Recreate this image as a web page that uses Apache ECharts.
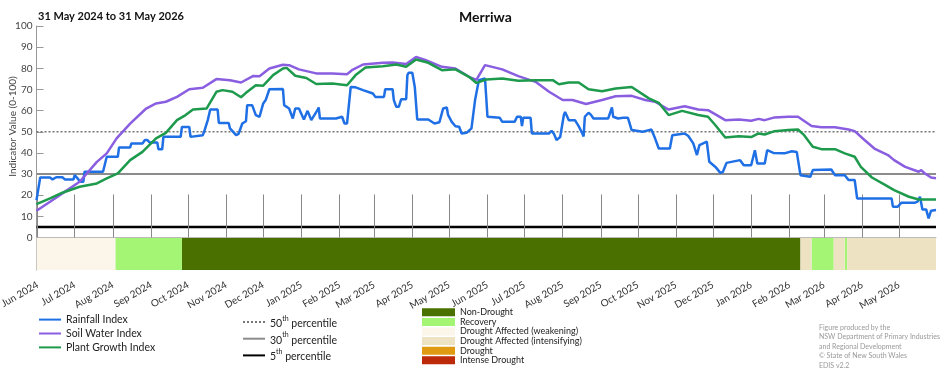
<!DOCTYPE html>
<html><head><meta charset="utf-8">
<script src="https://cdn.jsdelivr.net/npm/echarts@6.0.0/dist/echarts.min.js"></script>
<style>html,body{margin:0;padding:0;background:#fff}#c{width:952px;height:370px}</style>
</head><body><div id="c"></div>
<script>
const chartTitle = 'Merriwa';
const periodText = '31 May 2024 to 31 May 2026';
const xStart = '2024-05-31', xEnd = '2026-05-31';
const yTicks = [10,20,30,40,50,60,70,80,90,100];
const monthTicks = ['2024-06-01','2024-07-01','2024-08-01','2024-09-01','2024-10-01','2024-11-01','2024-12-01',
 '2025-01-01','2025-02-01','2025-03-01','2025-04-01','2025-05-01','2025-06-01','2025-07-01','2025-08-01','2025-09-01',
 '2025-10-01','2025-11-01','2025-12-01','2026-01-01','2026-02-01','2026-03-01','2026-04-01','2026-05-01'];
const monthNames = ['Jan','Feb','Mar','Apr','May','Jun','Jul','Aug','Sep','Oct','Nov','Dec'];

const rainDates = ['2024-05-31','2024-06-03','2024-06-11','2024-06-13','2024-06-16','2024-06-21','2024-06-23','2024-06-30','2024-07-01','2024-07-04','2024-07-05','2024-07-08','2024-07-09','2024-07-24','2024-07-27','2024-08-05','2024-08-06','2024-08-15','2024-08-16','2024-08-25','2024-08-27','2024-08-29','2024-08-31','2024-09-06','2024-09-07','2024-09-10','2024-09-11','2024-09-25','2024-09-26','2024-10-02','2024-10-03','2024-10-13','2024-10-14','2024-10-17','2024-10-19','2024-10-25','2024-10-26','2024-11-03','2024-11-04','2024-11-09','2024-11-11','2024-11-14','2024-11-17','2024-11-18','2024-11-22','2024-11-25','2024-11-28','2024-12-01','2024-12-03','2024-12-06','2024-12-17','2024-12-18','2024-12-22','2024-12-25','2024-12-27','2024-12-30','2025-01-03','2025-01-06','2025-01-09','2025-01-14','2025-01-15','2025-01-16','2025-01-29','2025-01-30','2025-02-03','2025-02-05','2025-02-07','2025-02-10','2025-02-14','2025-02-20','2025-02-28','2025-03-02','2025-03-09','2025-03-10','2025-03-16','2025-03-17','2025-03-19','2025-03-21','2025-03-23','2025-03-27','2025-03-28','2025-03-29','2025-04-01','2025-04-03','2025-04-05','2025-04-14','2025-04-19','2025-04-23','2025-04-26','2025-04-29','2025-04-30','2025-05-03','2025-05-06','2025-05-09','2025-05-11','2025-05-15','2025-05-19','2025-05-22','2025-05-23','2025-05-25','2025-05-26','2025-05-30','2025-06-01','2025-06-11','2025-06-13','2025-06-23','2025-06-25','2025-06-28','2025-06-29','2025-06-30','2025-07-06','2025-07-07','2025-07-21','2025-07-23','2025-07-25','2025-07-27','2025-07-30','2025-08-02','2025-08-03','2025-08-06','2025-08-11','2025-08-14','2025-08-17','2025-08-18','2025-08-19','2025-08-22','2025-08-24','2025-08-26','2025-09-07','2025-09-10','2025-09-11','2025-09-15','2025-09-19','2025-09-23','2025-09-26','2025-10-05','2025-10-10','2025-10-12','2025-10-15','2025-10-18','2025-10-27','2025-10-29','2025-11-08','2025-11-11','2025-11-15','2025-11-18','2025-11-20','2025-11-26','2025-11-28','2025-12-03','2025-12-07','2025-12-09','2025-12-12','2025-12-23','2025-12-26','2026-01-01','2026-01-04','2026-01-06','2026-01-12','2026-01-14','2026-01-19','2026-01-28','2026-02-03','2026-02-07','2026-02-10','2026-02-18','2026-02-20','2026-03-07','2026-03-10','2026-03-18','2026-03-19','2026-03-21','2026-03-26','2026-03-28','2026-04-25','2026-04-26','2026-04-30','2026-05-03','2026-05-14','2026-05-16','2026-05-18','2026-05-20','2026-05-23','2026-05-25','2026-05-27','2026-05-31'];
const rainValues = [17.7,28.4,28.4,27.5,28.5,28.5,27.5,27.5,29.5,27.5,26.4,26.4,31.1,31.1,38.2,38.2,42.6,42.6,44.5,44.5,46.1,46.1,44.9,44.9,41.7,41.7,47.6,47.6,52.3,52.3,47.6,48.4,50,55.5,60.5,60.5,54.2,54.2,51.6,48.4,49,53.9,55,62.6,62.6,57.9,57.1,63.4,65,70.1,70.2,62.6,61,56.3,61,61,55.8,59.9,55.5,60.2,61.5,56.3,56.3,57.1,57.1,53.9,53.9,71.2,71,69.7,68.1,66.5,66.5,70.1,70.1,65,61.8,61.8,65.4,65.4,76.8,77.9,77.9,71.2,55.8,55.8,53.9,54.5,61,61.5,58,54.7,52.6,52.4,49.2,49.5,51.6,65.3,66,74.4,75.2,75.2,57.1,56.6,54.7,54.7,57.1,57.1,52.7,56.6,56.6,49.2,49.2,50.5,49,46.1,47.5,57.9,59.4,55.5,55.5,52.7,49.2,47.8,57.1,59,58,56.3,56.3,61.5,57.1,56.3,56.6,56.6,50.8,50,50.8,51.1,46.9,42.1,42.1,48.4,49.2,48,44.5,39,43.7,45.3,35.8,33.4,30.6,31,35.3,36.6,34.2,34.2,41.3,35,35,41.3,40,39.8,40.8,40.5,29.5,28.7,31.9,32.2,29.5,29.5,30.3,27.2,27.2,18.5,18.5,14.6,14.6,16.5,16.5,17,19.3,13.3,13.3,9.1,12.7,13];

const soilDates = ['2024-05-31','2024-06-11','2024-06-21','2024-07-05','2024-07-19','2024-07-27','2024-08-04','2024-08-15','2024-08-28','2024-09-05','2024-09-13','2024-09-22','2024-10-02','2024-10-13','2024-10-24','2024-11-04','2024-11-13','2024-11-23','2024-11-28','2024-12-06','2024-12-17','2024-12-22','2024-12-30','2025-01-13','2025-01-26','2025-02-07','2025-02-11','2025-02-20','2025-03-08','2025-03-16','2025-03-27','2025-04-04','2025-04-12','2025-04-25','2025-05-06','2025-05-17','2025-05-23','2025-05-30','2025-06-13','2025-06-26','2025-07-10','2025-07-21','2025-08-01','2025-08-09','2025-08-20','2025-09-02','2025-09-13','2025-09-26','2025-10-07','2025-10-15','2025-10-26','2025-11-08','2025-11-19','2025-11-27','2025-12-03','2025-12-11','2025-12-22','2026-01-01','2026-01-07','2026-01-12','2026-01-20','2026-01-31','2026-02-08','2026-02-19','2026-02-27','2026-03-10','2026-03-21','2026-03-26','2026-04-03','2026-04-11','2026-04-22','2026-04-27','2026-05-06','2026-05-17','2026-05-19','2026-05-22','2026-05-27','2026-05-31'];
const soilValues = [12.7,16.9,20.9,26.4,35.8,39.8,46.9,53.9,61,63.4,64.2,66.5,70.1,70.8,74.9,74.4,73.3,76.4,76.3,79.9,81.7,81.5,79.5,77.6,77.6,77.2,79.1,81.8,82.6,82.7,82,85.4,83.8,80.7,79.9,76,74.5,81.5,79.5,76.3,73.6,68.9,65,65,63.1,65,66.8,67,65,64.2,60.5,62.1,60.5,60.2,58.2,55.5,55.8,55.2,56.1,55.5,56.8,57.1,57.1,52.7,52.1,52.1,51.1,50.3,46.1,42.1,39,36.6,33.4,31.1,31.9,30.3,28.4,28];

const plantDates = ['2024-05-31','2024-06-11','2024-06-21','2024-07-05','2024-07-19','2024-07-27','2024-08-05','2024-08-15','2024-08-25','2024-09-05','2024-09-13','2024-09-22','2024-09-29','2024-10-05','2024-10-16','2024-10-24','2024-10-29','2024-11-06','2024-11-13','2024-11-17','2024-11-25','2024-12-01','2024-12-09','2024-12-17','2024-12-20','2024-12-27','2025-01-05','2025-01-13','2025-01-26','2025-02-07','2025-02-14','2025-02-22','2025-03-08','2025-03-19','2025-03-27','2025-04-04','2025-04-14','2025-04-25','2025-05-06','2025-05-17','2025-05-23','2025-05-31','2025-06-13','2025-06-26','2025-07-10','2025-07-24','2025-07-29','2025-08-06','2025-08-14','2025-08-22','2025-09-02','2025-09-13','2025-09-26','2025-10-10','2025-10-18','2025-10-26','2025-11-06','2025-11-19','2025-11-27','2025-12-03','2025-12-11','2025-12-22','2026-01-01','2026-01-07','2026-01-12','2026-01-20','2026-01-31','2026-02-08','2026-02-13','2026-02-20','2026-02-27','2026-03-10','2026-03-18','2026-03-26','2026-03-31','2026-04-09','2026-04-20','2026-04-27','2026-05-09','2026-05-17','2026-05-31'];
const plantValues = [15.8,18.5,21.2,24,25.6,28,30.3,36.6,40.5,46.9,49.5,55.5,57.9,60.5,61,68.9,69.7,68.9,66.3,68.4,72,71.8,76.8,79.9,80.2,76.5,75.4,72.6,72.8,72,76.8,80.4,81,81.8,80.7,84.2,82.6,79.1,79.5,76,73.1,74.7,75.2,74.1,74.4,74.4,72.5,73.3,73.3,70.1,69.2,70.5,71.2,65.8,63.7,57.9,59.9,57.9,57.1,53.1,47.3,47.9,47.5,49.2,48.7,50.3,50.8,51.1,48.4,42.9,41.8,41.8,39.8,38.2,33.4,28.4,24.8,22.4,19.3,18,18];

const percentileNames = ['50th percentile','30th percentile','5th percentile'];
const percentileValues = [50, 30, 5];

const statusNames = ['Non-Drought','Recovery','Drought Affected (weakening)','Drought Affected (intensifying)','Drought','Intense Drought'];
const statusStart = ['2024-05-31','2024-08-03','2024-09-26','2026-02-10','2026-02-19','2026-03-09','2026-03-18','2026-03-20'];
const statusEnd   = ['2024-08-03','2024-09-26','2026-02-10','2026-02-19','2026-03-09','2026-03-18','2026-03-20','2026-05-31'];
const statusClass = [2,1,0,3,1,3,1,3];

const footnote = ['Figure produced by the','NSW Department of Primary Industries','and Regional Development','\u00A9 State of New South Wales','EDIS v2.2'];

const FONT = 'Lato';
const seriesColors = ['#1f6fe5','#8a5ee0','#1d9a4c'];
const percentileStyles = [{color:'#777', width:1.6, type:[2,2]},{color:'#8c8c8c', width:2, type:'solid'},{color:'#000', width:2.5, type:'solid'}];
const statusColors = ['#4a7000','#a3f573','#fcf5ea','#ede3c3','#e09a12','#bd2a0a'];
const BAND_BOTTOM = -15.5;

function ts(s){ return new Date(s + 'T00:00:00').getTime(); }
function pairs(d, v){ return d.map((x,i)=>[ts(x), v[i]]); }

const chart = echarts.init(document.getElementById('c'), null, {renderer:'canvas'});

const series = [
  {name:'Rainfall Index', data: pairs(rainDates, rainValues), color: seriesColors[0]},
  {name:'Soil Water Index', data: pairs(soilDates, soilValues), color: seriesColors[1]},
  {name:'Plant Growth Index', data: pairs(plantDates, plantValues), color: seriesColors[2]}
].map(s => ({
  type:'line', name:s.name, xAxisIndex:0, yAxisIndex:0, data:s.data, symbol:'none', showSymbol:false,
  lineStyle:{color:s.color, width:2.5}, itemStyle:{color:s.color}, z:5, animation:false
}));

percentileNames.forEach((n,i)=>{
  series.push({type:'line', name:n, xAxisIndex:0, yAxisIndex:0, symbol:'none', showSymbol:false, clip:false,
    data:[[ts(xStart), percentileValues[i]],[ts(xEnd), percentileValues[i]]],
    lineStyle:percentileStyles[i], itemStyle:{color:percentileStyles[i].color}, z:3, animation:false});
});

statusNames.forEach((n,ci)=>{
  const segs = [];
  statusClass.forEach((c,k)=>{ if(c===ci) segs.push([ts(statusStart[k]), ts(statusEnd[k])]); });
  series.push({type:'custom', name:n, xAxisIndex:1, yAxisIndex:1, itemStyle:{color:statusColors[ci]},
    encode:{x:[0,1]}, data:segs, z:1, animation:false,
    renderItem:(params, api)=>{
      const a = api.coord([api.value(0), 0]);
      const b = api.coord([api.value(1), BAND_BOTTOM]);
      return {type:'rect', shape:{x:a[0], y:a[1], width:b[0]-a[0], height:b[1]-a[1]}, style:{fill:statusColors[ci]}};
    }});
});

const monthTs = monthTicks.map(ts);
const labelStyle = {color:'#333', fontFamily:FONT, fontSize:10};

chart.setOption({
  animation:false,
  textStyle:{fontFamily:FONT},
  title:{text:chartTitle, left:454, top:5, textStyle:{fontFamily:FONT, fontSize:14, fontWeight:'bold', color:'#111'}},
  graphic:[
    {type:'text', left:38, top:11, style:{text:periodText, font:'bold 11px ' + FONT, fill:'#111'}},
    {type:'text', left:819, top:323, style:{text:footnote.join('\n'), font:'7px ' + FONT, fill:'#999', lineHeight:9.4}}
  ],
  grid:[
    {left:36.5, right:16, top:26, height:201, containLabel:false, outerBoundsMode:'none'},
    {left:36.5, right:16, top:227, height:43, containLabel:false, outerBoundsMode:'none'}
  ],
  xAxis:[
    {type:'value', gridIndex:0, min:ts(xStart), max:ts(xEnd), show:false},
    {type:'value', gridIndex:1, min:ts(xStart), max:ts(xEnd), z:5,
     axisLine:{show:true, lineStyle:{color:'#bbb', width:1}},
     axisTick:{show:true, inside:true, length:43, customValues:monthTs, lineStyle:{color:'#888', width:1}},
     splitLine:{show:false},
     axisLabel:{show:true, rotate:30, margin:14, customValues:monthTs, ...labelStyle,
       formatter:(v)=>{const d=new Date(v); return monthNames[d.getMonth()] + ' ' + d.getFullYear();}}}
  ],
  yAxis:[
    {type:'value', gridIndex:0, min:5, max:100, name:'Indicator Value (0-100)', nameLocation:'middle', nameGap:19,
     nameMoveOverlap:false,
     nameTextStyle:{color:'#444', fontFamily:FONT, fontSize:10},
     axisLine:{show:true, lineStyle:{color:'#999'}},
     axisTick:{show:true, inside:true, length:7, customValues:yTicks, lineStyle:{color:'#999'}},
     axisLabel:{customValues:yTicks, margin:4, color:'#444', fontFamily:FONT, fontSize:10},
     splitLine:{show:false}},
    {type:'value', gridIndex:1, min:BAND_BOTTOM, max:5,
     axisLine:{show:true, lineStyle:{color:'#999'}},
     axisTick:{show:true, inside:true, length:7, customValues:[0, -7.5], lineStyle:{color:'#999'}},
     axisLabel:{customValues:[0], margin:4, color:'#444', fontFamily:FONT, fontSize:10},
     splitLine:{show:false}}
  ],
  legend:[
    {data:['Rainfall Index','Soil Water Index','Plant Growth Index'], orient:'vertical', left:38, top:314, height:80, padding:0,
     itemWidth:22, itemHeight:14, itemGap:2.7, itemStyle:{opacity:0}, textStyle:{color:'#222', fontFamily:FONT, fontSize:10.5}, selectedMode:false},
    {data:percentileNames, orient:'vertical', left:242, top:315, height:80, padding:0, itemWidth:22, itemHeight:14, itemGap:2.7, selectedMode:false,
     itemStyle:{opacity:0},
     formatter:(n)=>{const m=n.match(/^(\d+)(th)(.*)$/); return '{n|'+m[1]+'}{s|'+m[2]+'}{n|'+m[3]+'}';},
     textStyle:{color:'#222', fontFamily:FONT, fontSize:10.5,
       rich:{n:{fontSize:10.5, fontFamily:FONT, color:'#222', lineHeight:14, verticalAlign:'bottom'},
             s:{fontSize:7, fontFamily:FONT, color:'#222', lineHeight:14, verticalAlign:'top'}}}},
    {data:statusNames, orient:'vertical', left:422, top:307.5, height:80, padding:0, icon:'rect', itemWidth:33, itemHeight:8, itemGap:0,
     selectedMode:false, textStyle:{color:'#222', fontFamily:FONT, fontSize:9, lineHeight:9.6}}
  ],
  series:series
});
</script>
</body></html>
